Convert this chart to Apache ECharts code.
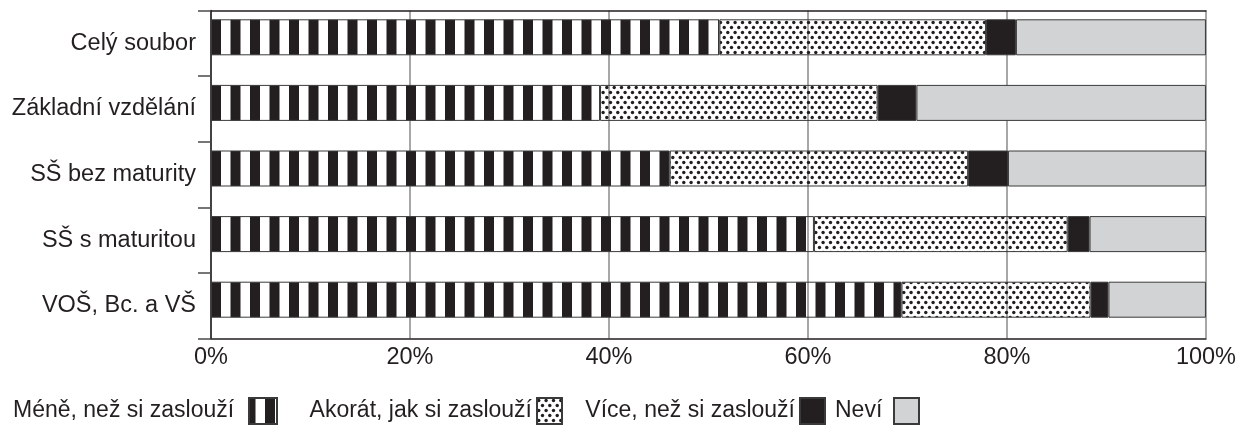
<!DOCTYPE html>
<html>
<head>
<meta charset="utf-8">
<script src="https://cdn.jsdelivr.net/npm/echarts@6/dist/echarts.min.js"></script>
<style>
  html, body { margin: 0; padding: 0; background: #ffffff; }
  #chart { width: 1239px; height: 425px; }
</style>
</head>
<body>
<div id="chart"></div>
<script>
// Categories (top to bottom) and shares in percent for each answer
const categories = ['Celý soubor', 'Základní vzdělání', 'SŠ bez maturity', 'SŠ s maturitou', 'VOŠ, Bc. a VŠ'];
const seriesNames = ['Méně, než si zaslouží', 'Akorát, jak si zaslouží', 'Více, než si zaslouží', 'Neví'];
const mene   = [51.1, 39.1, 46.1, 60.6, 69.4];
const akorat = [26.8, 27.9, 30.0, 25.5, 19.0];
const vice   = [3.0, 3.9, 4.0, 2.2, 1.8];
const nevi   = [19.1, 29.1, 19.9, 11.7, 9.8];
const xTicks = [0, 20, 40, 60, 80, 100];

const INK = '#231f20';
const FONT = '"Liberation Sans", Arial, Helvetica, sans-serif';
const LEGEND_SIZE = 23;

// Vertical black/white stripes
function stripeCanvas() {
  const c = document.createElement('canvas');
  c.width = 39; c.height = 10;
  const g = c.getContext('2d');
  g.fillStyle = INK;
  g.fillRect(0, 0, 10, 10);
  g.fillRect(19.5, 0, 10, 10);
  return c;
}
// Staggered dot raster
function dotCanvas() {
  const c = document.createElement('canvas');
  c.width = 22; c.height = 10;
  const g = c.getContext('2d');
  g.fillStyle = INK;
  const pts = [[1.8, 2.5], [9.1, 2.5], [16.5, 2.5], [5.5, 7.5], [12.8, 7.5], [20.2, 7.5], [-1.8, 7.5]];
  pts.forEach(([x, y]) => { g.beginPath(); g.arc(x, y, 1.7, 0, Math.PI * 2); g.fill(); });
  return c;
}
// natural width of a legend text
function textWidth(s) {
  const g = document.createElement('canvas').getContext('2d');
  g.font = LEGEND_SIZE + 'px ' + FONT;
  return g.measureText(s).width;
}

const fills = [
  { image: stripeCanvas(), repeat: 'repeat', x: 211, y: 0 },
  { image: dotCanvas(), repeat: 'repeat', x: 0, y: 0 },
  INK,
  '#d1d3d4'
];
const values = [mene, akorat, vice, nevi];

const series = seriesNames.map((name, i) => ({
  name: name,
  type: 'bar',
  stack: 'share',
  barWidth: 36,
  barGap: '0%',
  data: values[i],
  itemStyle: { color: fills[i], borderColor: '#3a3a3a', borderWidth: 1 },
  emphasis: { disabled: true }
}));
// empty spacer stack: keeps each bar in the upper part of its row
series.push({
  type: 'bar',
  stack: 'spacer',
  barWidth: 12,
  barGap: '0%',
  silent: true,
  data: categories.map(() => '-'),
  itemStyle: { opacity: 0 }
});

// one legend block per answer: text followed by its swatch at a fixed x
const legendPos = [
  { left: 13, icon: 249, w: 28 },
  { left: 310, icon: 537, w: 25 },
  { left: 590, icon: 800, w: 25 },
  { left: 835, icon: 894, w: 25 }
];
const legends = seriesNames.map((name, i) => {
  const p = legendPos[i];
  const tw = textWidth(name);
  let left = p.left;
  let pad = p.icon - 5 - left - tw;
  if (pad < 0) { left += pad; pad = 0; }
  return {
    data: [name],
    left: left,
    top: 397,
    orient: 'horizontal',
    align: 'right',
    icon: 'rect',
    itemWidth: p.w,
    itemHeight: 26,
    selectedMode: false,
    padding: 0,
    textStyle: {
      fontFamily: FONT, fontSize: LEGEND_SIZE, color: INK,
      padding: [0, pad, 0, 0]
    }
  };
});

const chart = echarts.init(document.getElementById('chart'), null, { renderer: 'canvas' });
chart.setOption({
  animation: false,
  backgroundColor: '#ffffff',
  grid: { left: 211, right: 33, top: 10.5, bottom: 86.5, containLabel: false },
  legend: legends,
  xAxis: [
    {
      type: 'value',
      min: xTicks[0],
      max: xTicks[xTicks.length - 1],
      interval: xTicks[1] - xTicks[0],
      position: 'bottom',
      axisLine: { show: true, lineStyle: { color: INK, width: 1.5 } },
      axisTick: { show: false },
      splitLine: { show: true, lineStyle: { color: '#8a8a8a', width: 1.5 } },
      axisLabel: {
        formatter: '{value}%',
        fontFamily: FONT, fontSize: 23.5, color: INK, margin: 7,
        showMinLabel: true, showMaxLabel: true
      }
    },
    {
      type: 'value',
      min: xTicks[0],
      max: xTicks[xTicks.length - 1],
      position: 'top',
      axisLine: { show: true, lineStyle: { color: INK, width: 1.5 } },
      axisTick: { show: false },
      splitLine: { show: false },
      axisLabel: { show: false }
    }
  ],
  yAxis: {
    type: 'category',
    data: categories,
    inverse: true,
    axisLine: { show: true, lineStyle: { color: INK, width: 1.5 } },
    axisTick: { show: true, length: 13, lineStyle: { color: '#4a4a4a', width: 1.5 } },
    splitLine: { show: false },
    axisLabel: { fontFamily: FONT, fontSize: 23.5, color: INK, margin: 15 }
  },
  series: series
});
</script>
</body>
</html>
